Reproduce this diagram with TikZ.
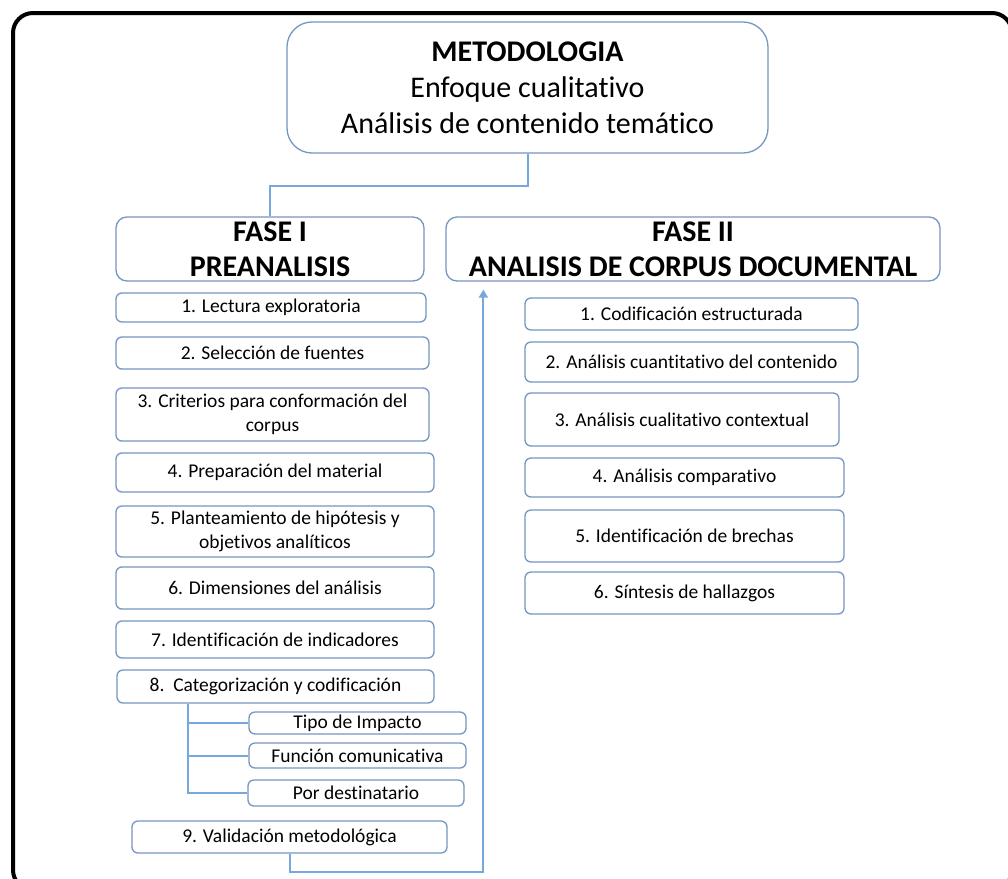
\documentclass[tikz,border=0pt]{standalone}
\usepackage{fontspec}
\setmainfont{Carlito}[Ligatures=NoCommon]
\usetikzlibrary{arrows.meta}
\definecolor{bordeazul}{RGB}{116,150,194}
\definecolor{lineaazul}{RGB}{118,168,222}

\begin{document}
\begin{tikzpicture}[x=1pt,y=-1pt,
  paso/.style={draw=bordeazul, line width=1.3pt, rounded corners=6pt, align=center, inner sep=0pt, font=\fontsize{19.5}{24}\selectfont},
  fase/.style={draw=bordeazul, line width=1.3pt, rounded corners=11pt, align=center, inner sep=0pt, font=\fontsize{30}{35}\selectfont\bfseries},
  enlace/.style={draw=lineaazul, line width=2pt}]
\useasboundingbox (0,0) rectangle (1008,878);
\clip (0,0) rectangle (1008,878);
\fill[white] (0,0) rectangle (1008,878);
\draw[line width=4pt, rounded corners=20pt] (13,13) rectangle (1012,890);

\node[draw=bordeazul, line width=1.3pt, rounded corners=25pt, align=center, inner sep=0pt,
  minimum width=481pt, minimum height=131pt, font=\fontsize{30}{36}\selectfont] (meta) at (527.5,87.5)
  {\textbf{METODOLOGIA}\\Enfoque cualitativo\\Análisis de contenido temático};

\node[fase, minimum width=308pt, minimum height=64pt] (fase1) at (270,249) {FASE I\\PREANALISIS};
\node[fase, minimum width=494pt, minimum height=64pt] (fase2) at (693,249) {FASE II\\ANALISIS DE CORPUS DOCUMENTAL};

% fase I
\node[paso, minimum width=310pt, minimum height=29pt] (l1) at (271,307.5) {1. Lectura exploratoria};
\node[paso, minimum width=313pt, minimum height=32pt] (l2) at (272.5,353) {2. Selección de fuentes};
\node[paso, minimum width=313pt, minimum height=53pt] (l3) at (272.5,414.5) {3. Criterios para conformación del\\corpus};
\node[paso, minimum width=318pt, minimum height=39pt] (l4) at (275,472.5) {4. Preparación del material};
\node[paso, minimum width=318pt, minimum height=51pt] (l5) at (275,531.5) {5. Planteamiento de hipótesis y\\objetivos analíticos};
\node[paso, minimum width=318pt, minimum height=42pt] (l6) at (275,588) {6. Dimensiones del análisis};
\node[paso, minimum width=318pt, minimum height=37pt] (l7) at (275,639.5) {7. Identificación de indicadores};
\node[paso, minimum width=317pt, minimum height=33pt] (l8) at (275.5,686.5) {8.\ \ Categorización y codificación};
\node[paso, minimum width=217pt, minimum height=22pt] (s1) at (357.5,723) {Tipo de Impacto};
\node[paso, minimum width=217pt, minimum height=25pt] (s2) at (357.5,755.5) {Función comunicativa};
\node[paso, minimum width=216pt, minimum height=26pt] (s3) at (356,793) {Por destinatario};
\node[paso, minimum width=315pt, minimum height=32pt] (l9) at (289.5,837) {9. Validación metodológica};

% fase II
\node[paso, minimum width=333pt, minimum height=32pt] (r1) at (691.5,314) {1. Codificación estructurada};
\node[paso, minimum width=333pt, minimum height=40pt] (r2) at (691.5,362) {2. Análisis cuantitativo del contenido};
\node[paso, minimum width=314pt, minimum height=53pt] (r3) at (682,419.5) {3. Análisis cualitativo contextual};
\node[paso, minimum width=319pt, minimum height=39pt] (r4) at (684.5,477.5) {4. Análisis comparativo};
\node[paso, minimum width=319pt, minimum height=52pt] (r5) at (684.5,536) {5. Identificación de brechas};
\node[paso, minimum width=319pt, minimum height=42pt] (r6) at (684.5,593) {6. Síntesis de hallazgos};

\draw[enlace] (meta.south) -- ++(0,32) -| (fase1.north);
\draw[enlace] ([xshift=72pt]l8.south west) |- (s3.west);
\draw[enlace] ([xshift=72pt]l8.south west) |- (s1.west);
\draw[enlace] ([xshift=72pt]l8.south west) |- (s2.west);
\coordinate (llegada) at ([xshift=38pt,yshift=-8pt]fase2.south west);
\draw[enlace, -{Triangle[width=9pt,length=8pt]}] (l9.south) -- ++(0,18) -| (llegada);
\end{tikzpicture}
\end{document}
